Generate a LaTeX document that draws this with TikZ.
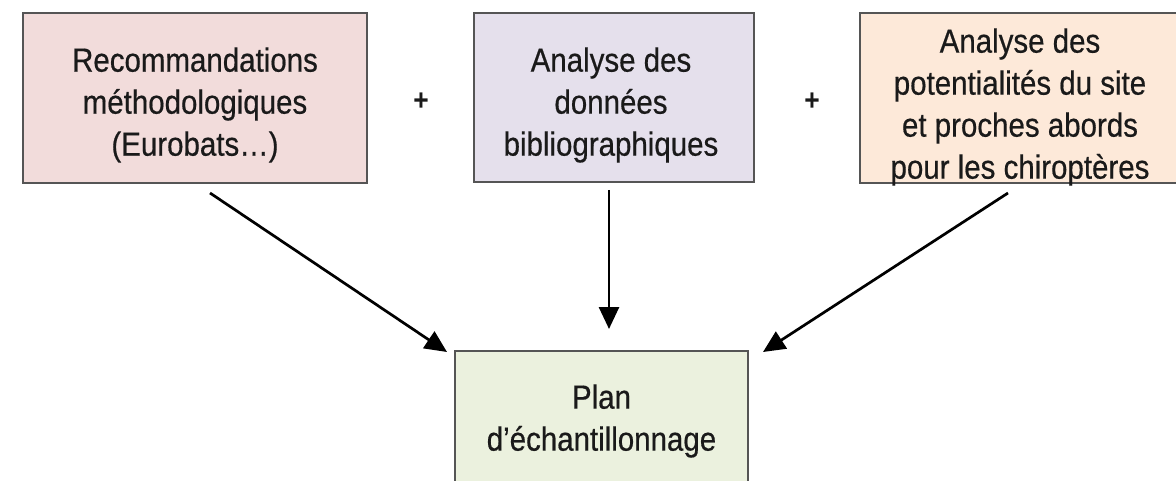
\documentclass[tikz,border=0pt]{standalone}
\usepackage{fontspec}
\setmainfont{Liberation Sans}
\newfontfamily\condfont[FakeStretch=0.88,FakeBold=0.5]{Liberation Sans}
\newfontfamily\condbold[FakeStretch=0.88]{Liberation Sans Bold}
\usetikzlibrary{arrows.meta}
\definecolor{pinkbox}{HTML}{F2DCDB}
\definecolor{lavbox}{HTML}{E5E0EC}
\definecolor{peachbox}{HTML}{FDE9D9}
\definecolor{greenbox}{HTML}{EBF1DE}
\definecolor{edgegray}{HTML}{555555}
\definecolor{inkcol}{HTML}{1A1A1A}
\tikzset{
  box/.style={draw=edgegray, line width=1.5pt, rectangle, inner sep=0pt},
  txt/.style={inner sep=0pt, align=center, text=inkcol, font=\condfont\fontsize{33.5}{42}\selectfont},
  plus/.style={inner sep=0pt, text=inkcol, font=\condbold\fontsize{30}{32}\selectfont},
  arr/.style={line width=2.7pt, draw=black, -{Triangle[length=22pt,width=20pt]}}
}
\begin{document}
\begin{tikzpicture}[x=1pt,y=1pt]
\useasboundingbox[fill=white] (0,0) rectangle (1176,-481);
\node[box, fill=pinkbox, minimum width=344pt, minimum height=170pt] (b1) at (195,-98) {};
\node[txt] (b1t) at (195,-105)
  {Recommandations\\méthodologiques\\(Eurobats…)};
\node[box, fill=lavbox, minimum width=280pt, minimum height=169pt] (b2) at (614,-97.5) {};
\node[txt] (b2t) at (611,-105)
  {Analyse des\\données\\bibliographiques};
\node[box, fill=peachbox, minimum width=318pt, minimum height=170pt] (b3) at (1019,-98) {};
\node[txt] (b3t) at (1020,-107)
  {Analyse des\\potentialités du site\\et proches abords\\pour les chiroptères};
\node[box, fill=greenbox, minimum width=293pt, minimum height=140pt] (b4) at (601.5,-421) {};
\node[txt] (b4t) at (601.5,-421)
  {Plan\\d’échantillonnage};
\node[plus] (p1) at (421,-102) {+};
\node[plus] (p2) at (812,-102) {+};
\coordinate (s1) at (210,-193);
\coordinate (t1) at (447,-352);
\coordinate (s2) at (609,-190);
\coordinate (t2) at (609,-329);
\coordinate (s3) at (1008,-193);
\coordinate (t3) at (763,-352);
\draw[arr] (s1) -- (t1);
\draw[arr] (s2) -- (t2);
\draw[arr] (s3) -- (t3);
\end{tikzpicture}
\end{document}
